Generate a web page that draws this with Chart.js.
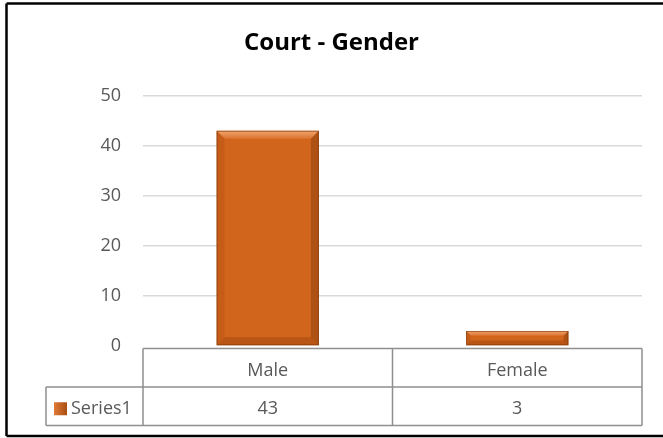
<!DOCTYPE html>
<html lang="en">
<head>
  <meta charset="UTF-8">
  <title>Court - Gender</title>
  <script src="https://cdn.jsdelivr.net/npm/chart.js"></script>
  <style>
    html, body {
      margin: 0;
      padding: 0;
      background: #fff;
    }
    #wrap {
      width: 663px;
      height: 438px;
    }
  </style>
</head>
<body>
  <div id="wrap"><canvas id="genderChart" width="663" height="438"></canvas></div>

  <script>
    // data
    const categories = ['Male', 'Female'];
    const seriesName = 'Series1';
    const seriesValues = [43, 3];
    const yTicks = [0, 10, 20, 30, 40, 50];

    const barColor = '#D2651C';
    const textColor = '#595959';
    const tableLine = '#8f8f8f';
    const fontFamily = '"Open Sans", "Noto Sans", sans-serif';

    // frame around the chart (left, top, bottom only - right side is cropped)
    const framePlugin = {
      id: 'frame',
      afterDraw(chart) {
        const c = chart.ctx;
        c.save();
        c.strokeStyle = '#000';
        c.lineWidth = 2.5;
        c.beginPath();
        c.moveTo(6.5, 3.5);
        c.lineTo(663, 3.5);
        c.moveTo(6.5, 3.5);
        c.lineTo(6.5, 436);
        c.moveTo(6.5, 436);
        c.lineTo(663, 436);
        c.stroke();
        c.restore();
      }
    };

    // excel style bevel on the bars
    const bevelPlugin = {
      id: 'bevel',
      afterDatasetsDraw(chart) {
        const c = chart.ctx;
        chart.getDatasetMeta(0).data.forEach(el => {
          const l = el.x - el.width / 2, r = el.x + el.width / 2;
          const t = el.y, b = el.base;
          const bv = Math.min(8, (b - t) / 3);
          c.save();
          // top
          const g = c.createLinearGradient(0, t, 0, t + bv);
          g.addColorStop(0, '#F0A56E');
          g.addColorStop(1, '#DC7330');
          c.fillStyle = g;
          c.beginPath();
          c.moveTo(l, t); c.lineTo(r, t); c.lineTo(r - bv, t + bv); c.lineTo(l + bv, t + bv);
          c.closePath(); c.fill();
          // right
          c.fillStyle = 'rgba(110,45,5,0.35)';
          c.beginPath();
          c.moveTo(r, t); c.lineTo(r, b); c.lineTo(r - bv, b - bv); c.lineTo(r - bv, t + bv);
          c.closePath(); c.fill();
          // left
          c.fillStyle = 'rgba(110,45,5,0.12)';
          c.beginPath();
          c.moveTo(l, t); c.lineTo(l + bv, t + bv); c.lineTo(l + bv, b - bv); c.lineTo(l, b);
          c.closePath(); c.fill();
          // bottom
          c.fillStyle = 'rgba(110,45,5,0.25)';
          c.beginPath();
          c.moveTo(l, b); c.lineTo(l + bv, b - bv); c.lineTo(r - bv, b - bv); c.lineTo(r, b);
          c.closePath(); c.fill();
          c.strokeStyle = 'rgba(120,55,10,0.6)';
          c.lineWidth = 1;
          c.strokeRect(l + 0.5, t + 0.5, el.width - 1, b - t - 1);
          c.restore();
        });
      }
    };

    // data table under the plot
    const tablePlugin = {
      id: 'dataTable',
      afterDraw(chart) {
        const c = chart.ctx;
        const xs = chart.scales.x;
        const area = chart.chartArea;
        const top = chart.scales.y.getPixelForValue(0) + 2.5;
        const rowH = 38.5;
        const mid = top + rowH;
        const bottom = mid + rowH;
        const tableLeft = 46;
        const colW = (area.right - area.left) / categories.length;

        c.save();
        c.strokeStyle = tableLine;
        c.lineWidth = 1.5;
        c.beginPath();
        c.moveTo(area.left, top); c.lineTo(area.right, top);
        c.moveTo(tableLeft, mid); c.lineTo(area.right, mid);
        c.moveTo(tableLeft, bottom); c.lineTo(area.right, bottom);
        c.moveTo(tableLeft, mid); c.lineTo(tableLeft, bottom);
        for (let i = 0; i <= categories.length; i++) {
          const x = area.left + i * colW;
          c.moveTo(x, top); c.lineTo(x, bottom);
        }
        c.stroke();

        c.fillStyle = textColor;
        c.font = '18px ' + fontFamily;
        c.textAlign = 'center';
        c.textBaseline = 'middle';
        categories.forEach((cat, i) => {
          const x = xs.getPixelForValue(i);
          c.fillText(cat, x, top + rowH / 2 + 3);
          c.fillText(String(seriesValues[i]), x, mid + rowH / 2 + 3);
        });

        // legend key + series name
        const ky = mid + rowH / 2 + 3;
        const kg = c.createLinearGradient(54, 0, 67, 0);
        kg.addColorStop(0, '#E07A36');
        kg.addColorStop(1, '#A84F12');
        c.fillStyle = kg;
        c.fillRect(54, ky - 7, 13, 13);
        c.fillStyle = textColor;
        c.textAlign = 'left';
        c.fillText(seriesName, 71, ky);
        c.restore();
      }
    };

    const chart = new Chart(document.getElementById('genderChart'), {
      type: 'bar',
      data: {
        labels: categories,
        datasets: [{
          label: seriesName,
          data: seriesValues,
          backgroundColor: barColor,
          borderWidth: 0,
          categoryPercentage: 1,
          barPercentage: 0.41
        }]
      },
      options: {
        responsive: false,
        animation: false,
        layout: {
          padding: { left: 0, right: 0, top: 0, bottom: 92 }
        },
        plugins: {
          legend: { display: false },
          tooltip: { enabled: false },
          title: {
            display: true,
            text: 'Court - Gender',
            color: '#000',
            font: { family: fontFamily, size: 24, weight: 'bold', lineHeight: 1.2 },
            padding: { top: 29, bottom: 38 }
          }
        },
        scales: {
          x: {
            display: false
          },
          y: {
            min: yTicks[0],
            max: yTicks[yTicks.length - 1],
            afterFit(scale) { scale.width = 143; },
            afterBuildTicks(scale) { scale.ticks = yTicks.map(v => ({ value: v })); },
            border: { display: false },
            grid: {
              color: ctx => ctx.tick && ctx.tick.value === 0 ? 'rgba(0,0,0,0)' : '#d9d9d9',
              lineWidth: 1.5,
              drawTicks: false
            },
            ticks: {
              color: textColor,
              padding: 22,
              font: { family: fontFamily, size: 18 }
            }
          },
          // empty right gutter so the plot ends where the reference does
          gutter: {
            position: 'right',
            display: true,
            afterFit(scale) { scale.width = 21; },
            border: { display: false },
            grid: { display: false },
            ticks: { display: false }
          }
        }
      },
      plugins: [bevelPlugin, tablePlugin, framePlugin]
    });
  </script>
</body>
</html>
